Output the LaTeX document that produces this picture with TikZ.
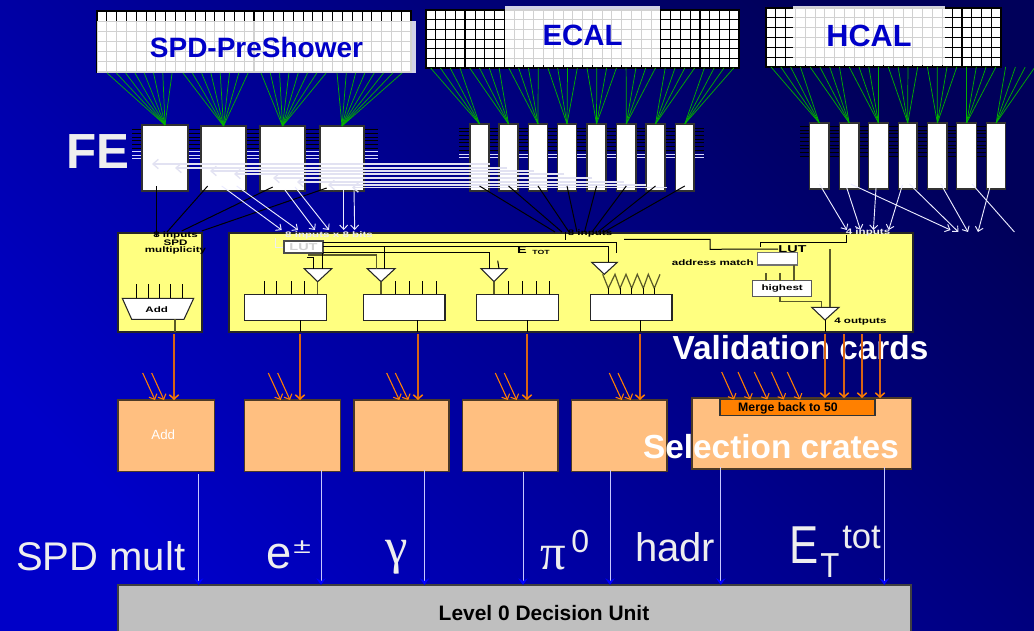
\documentclass[tikz,border=0pt]{standalone}
\usepackage{fontspec}
\setmainfont{Liberation Sans}
\newfontfamily\serifgr{Liberation Serif}
\usetikzlibrary{arrows.meta}
\definecolor{bgA}{RGB}{0,0,200}
\definecolor{bgB}{RGB}{0,0,90}
\definecolor{yel}{RGB}{255,255,128}
\definecolor{org}{RGB}{255,191,128}
\definecolor{orgd}{RGB}{255,128,0}
\definecolor{orgl}{RGB}{215,100,20}
\definecolor{lgt}{RGB}{238,238,238}
\definecolor{lav}{RGB}{226,226,242}
\definecolor{blu}{RGB}{0,0,200}
\definecolor{fang}{RGB}{0,175,0}
\definecolor{edge}{RGB}{50,50,50}
\definecolor{olive}{RGB}{90,90,40}
\definecolor{headb}{RGB}{0,0,255}
\newcommand\fsz[1]{\fontsize{#1}{#1}\selectfont}
\newcommand\wide[1]{\scalebox{1.45}[1]{#1}}
\newcommand\pxbox[7]{%
  \pgfmathsetmacro\bcx{(#2+#4)/2}\pgfmathsetmacro\bcy{(#3+#5)/2}%
  \pgfmathsetmacro\bxw{(#4-#2)*0.75}\pgfmathsetmacro\bxh{(#5-#3)*0.75}%
  \node[inner sep=0pt,outer sep=0pt,minimum width=\bxw pt,minimum height=\bxh pt,#6] (#1) at (\bcx,\bcy) {#7};}
\newcommand\gridlines[6]{%
  \foreach \k in {0,...,#5}{%
    \pgfmathsetmacro\gx{#1+\k*(#3-#1)/#5}%
    \pgfmathsetmacro\lw{mod(\k,4)==0?1.0:0.6}%
    \draw[line width=\lw pt] (\gx,#2) -- (\gx,#4);}%
  \foreach \k in {0,...,#6}{%
    \pgfmathsetmacro\gy{#2+\k*(#4-#2)/#6}%
    \draw[line width=0.7pt] (#1,\gy) -- (#3,\gy);}}
\tikzset{
  fan/.style={fang,line width=0.55pt},
  wire/.style={black,line width=0.75pt},
  owire/.style={olive,line width=0.9pt},
  febox/.style={draw=edge,fill=white,line width=0.9pt},
  grid box/.style={draw=black,fill=white,line width=1pt},
  overlay box/.style={fill=white,fill opacity=0.82,text opacity=1,text=blu,font=\bfseries},
  yelbox/.style={draw=black!85,fill=yel,line width=1.1pt},
  wbox/.style={draw=black!85,fill=white,line width=0.9pt},
  orbox/.style={draw=black!70!org,fill=org,line width=1.1pt},
  warrow/.style={white!92!blue,line width=0.7pt,-{Straight Barb[length=3.2pt,width=6pt]}},
  larrow/.style={lav,line width=1pt,-{Straight Barb[length=4pt,width=7pt]}},
  oarrow/.style={orgd,line width=0.8pt,-{Straight Barb[length=3.2pt,width=6.5pt]}},
  overt/.style={orgl,line width=1.1pt,-{Straight Barb[length=3.2pt,width=7pt,color=orgd]}},
  barrow/.style={white!78!blue,line width=0.7pt,-{Stealth[length=5pt,width=7pt,inset=2pt,color=headb]}},
  tinytxt/.style={inner sep=0pt,font=\bfseries\fsz{6}},
  biglab/.style={inner sep=0pt,text=lgt,anchor=base west},
  hugetxt/.style={inner sep=0pt,text=white,font=\bfseries\fsz{25}},
  cmp/.style={draw=black!85,fill=white,line width=0.8pt}
}
\begin{document}
\begin{tikzpicture}[x=0.75pt,y=-0.75pt]
\useasboundingbox (0,0) rectangle (1034,631);
\clip (0,0) rectangle (1034,631);
\shade[left color=bgA,right color=bgB,shading angle=135] (-1,-1) rectangle (1035,632);

% detectors
\pxbox{spdgrid}{97}{11}{411}{72}{grid box}{}
\gridlines{97}{11}{411}{72}{32}{6}
\pxbox{spd}{97}{21}{416}{73}{overlay box}{\raisebox{-1.5pt}{\fsz{21}SPD-PreShower}}
\pxbox{ecalgrid}{426}{10}{739}{68}{grid box}{}
\gridlines{426}{10}{739}{68}{32}{6}
\pxbox{ecal}{505}{6}{660}{65}{overlay box}{\raisebox{-1pt}{\fsz{22}ECAL}}
\pxbox{hcalgrid}{766}{8}{1001}{67}{grid box}{}
\gridlines{766}{8}{1001}{67}{24}{6}
\pxbox{hcal}{793}{6}{945}{65}{overlay box}{\raisebox{-1pt}{\fsz{23}HCAL}}

% side ticks
\foreach \y in {129,133,137,140,144,148}{\draw[black,line width=0.6pt] (132,\y) -- (378,\y);}
\foreach \y in {151,155,158}{\draw[white!85!blue,line width=0.6pt] (132,\y) -- (378,\y);}
\foreach \y in {128,131,135,139,142,146,150}{\draw[black,line width=0.6pt] (459,\y) -- (704,\y);}
\foreach \y in {154,157}{\draw[white!85!blue,line width=0.6pt] (459,\y) -- (704,\y);}
\foreach \y in {126,130,133,137,141,145,148,152,156}{\draw[black,line width=0.6pt] (800,\y) -- (986,\y);}

% front-end boards
\pxbox{s1}{142}{125}{188}{191}{febox}{}
\pxbox{s2}{201}{126}{246}{191}{febox}{}
\pxbox{s3}{260}{126}{305}{191}{febox}{}
\pxbox{s4}{320}{126}{364}{191}{febox}{}
\foreach \j/\a/\b in {1/470/489,2/499/518,3/528.5/547.5,4/557.5/576.5,5/587/606,6/616.5/636,7/646/665,8/675.5/694}{
  \pxbox{e\j}{\a}{124}{\b}{191}{febox}{}}
\foreach \j/\a/\b in {1/809.6/829,2/839.3/859,3/868.7/888.3,4/898.5/917,5/927.8/947,6/956.8/976.4,7/986.6/1005.7}{
  \pxbox{h\j}{\a}{123}{\b}{189}{febox}{}}

% green fans
\foreach \j/\d in {1/10,2/86,3/164,4/240}{
  \foreach \i in {0,...,7}{
    \pgfmathsetmacro\dx{\d+\i*9.3}
    \draw[fan] (spdgrid.south west) ++(\dx,1) -- (s\j.north);}}
\foreach \j in {1,...,8}{
  \foreach \i in {0,...,3}{
    \pgfmathsetmacro\dx{4.6+(\j-1)*39.1+\i*9.8}
    \draw[fan] (ecalgrid.south west) ++(\dx,0) -- (e\j.north);}}
\foreach \j in {1,...,7}{
  \foreach \i in {0,...,3}{
    \pgfmathsetmacro\dx{5+(\j-1)*39.1+\i*9.8}
    \draw[fan] (hcalgrid.south west) ++(\dx,0) -- (h\j.north);}}

% yellow cards
\pxbox{addcard}{118}{233}{202}{332}{yelbox}{}
\pxbox{main}{229}{233}{913}{332}{yelbox}{}

% long links ECAL -> SPD
\foreach \n/\ax/\bx/\y in {1/152/490/164,2/175/507/168,3/210/533.5/171,4/234/564/174,5/273/592/178,6/297/623.6/182,7/328/646/185,8/352/667/187.5}{
  \coordinate (la\n) at (\ax,\y);
  \coordinate (lb\n) at (\bx,\y);
  \draw[larrow] (lb\n) -- (la\n);}

% black links to cards
\coordinate (ad2) at (167,232); \coordinate (ad3) at (181.7,231); \coordinate (ad4) at (201.7,231);
\draw[wire] (s1.south) ++(-9,-5) -- ++(0,51);
\draw[wire] (s2.south) ++(-15.8,-5) -- (ad2);
\draw[wire] (s3.south) ++(-9.8,-4) -- (ad3);
\draw[wire] (s4.south) ++(-15.3,-3) -- (ad4);
\foreach \j/\x in {1/555,2/562,3/569,4/577,5/584.5,6/592,7/598,8/604}{
  \coordinate (ein\j) at (\x,232);
  \draw[wire] (e\j.south) ++(0,-5) -- (ein\j);}

% white links to main card
\foreach \n/\ax/\ay/\bx in {1/221.7/186/281.7,2/236.7/186/298,3/285/190/315,4/295/187/329,5/343.7/190/343.7,6/354/190/354.7}{
  \coordinate (wa\n) at (\ax,\ay); \coordinate (wb\n) at (\bx,230);
  \draw[warrow] (wa\n) -- (wb\n);}
\foreach \n/\ax/\ay/\bx/\by in {1/819.4/184/846.8/230,2/846.8/188/860.5/230,3/876/188/873.4/230,4/902.4/185/888.7/230,5/850.7/184/950.5/230,6/909.4/184/958.4/232,7/940.8/184/968/232,8/989.7/188/978/232}{
  \coordinate (ha\n) at (\ax,\ay); \coordinate (hb\n) at (\bx,\by);
  \draw[warrow] (ha\n) -- (hb\n);}
\coordinate (ha9) at (972,184); \coordinate (hb9) at (1014.4,232);
\draw[white!92!blue,line width=0.7pt] (ha9) -- (hb9);

% left card content
\node[tinytxt] (t1) at (175.5,235) {\wide{8 inputs}};
\node[tinytxt] (t2) at (175.5,243) {\wide{SPD}};
\node[tinytxt] (t3) at (175.5,250.5) {\wide{multiplicity}};
\coordinate (tra) at (122.3,298.3); \coordinate (trb) at (193.7,298.3);
\coordinate (trc) at (184,319.3); \coordinate (trd) at (131.7,319.3);
\draw[cmp] (tra) -- (trb) -- (trc) -- (trd) -- cycle;
\node[tinytxt] (addtxt) at (156.7,310) {\wide{Add}};
\foreach \x in {136.7,148,159,170.7,182.3}{\draw[wire] (\x,284) -- (\x,298.3);}
\draw[owire] (175,319.3) -- (175,332);

% main card: LUT block
\draw[lgt,line width=0.6pt] (275,238) -- (275,247) -- (284,247);
\node[tinytxt,text=lgt] (t8b) at (329,235) {\wide{8 inputs x 8 bits}};
\pxbox{lut}{284}{241}{323}{253}{draw=black!70,fill=white,line width=0.9pt,text=black!18,font=\bfseries\fsz{7.5}}{\wide{LUT}}

% comparators
\foreach \n/\a/\b/\m/\t/\p in {1/304.3/331.7/317.7/268.7/281.7,2/367.3/395/381/268.7/281.7,3/481/507/494/268.7/281.7,4/591.7/617.3/604.3/262.3/274.3,5/811.7/839/825/307.3/320}{
  \coordinate (ca\n) at (\a,\t); \coordinate (cb\n) at (\b,\t); \coordinate (cp\n) at (\m,\p);
  \draw[cmp] (ca\n) -- (cb\n) -- (cp\n) -- cycle;}

% output boxes
\pxbox{b1}{244.7}{294.3}{326.7}{320.3}{wbox}{}
\pxbox{b2}{363.3}{294.3}{445}{320.3}{wbox}{}
\pxbox{b3}{476.3}{294.3}{558.7}{320.3}{wbox}{}
\pxbox{b4}{590.3}{294.3}{672}{320.3}{wbox}{}
\foreach \x in {264,276.7,291,304.7}{\draw[wire] (\x,281) -- (\x,294.3);}
\draw[owire] (cp1) -- (cp1 |- b1.north);
\foreach \x in {395,409,422.7,436}{\draw[wire] (\x,281) -- (\x,294.3);}
\draw[owire] (cp2) -- (cp2 |- b2.north);
\foreach \x in {508.7,522.3,536,549.7}{\draw[wire] (\x,281) -- (\x,294.3);}
\draw[owire] (cp3) -- (cp3 |- b3.north);
\draw[owire] (602.7,274.3) -- (608.3,288.3) -- (615,274.3) -- (620,288.3) -- (626,274.3) -- (631.7,288.3) -- (637.3,274.3) -- (643.3,288.3) -- (648.3,274.3) -- (654.3,288.3) -- (660,274.3);
\foreach \x in {608.3,620,631.7,643.3,654.3}{\draw[wire] (\x,288.3) -- (\x,294.3);}

% LUT wiring
\coordinate (lp2) at (384,246.7);
\draw[wire] (lut.east |- 0,242.3) -- (616,242.3) -- (616,253);
\draw[wire] (lut.east |- 0,246.7) -- (608,246.7) -- (608,262.3);
\draw[wire] (lp2) -- (384,268.7);
\draw[wire] (lut.east |- 0,252.7) -- (489.7,252.7) -- (489.7,268.7);
\draw[owire] (308,255) -- (376.7,255) -- (376.7,268.7);
\draw[wire] (322.7,253) -- (322.7,268.7);
\draw[wire] (307,257.5) -- (313,257.5) -- (313,268.7);
\draw[wire] (497.7,260.7) -- (499,268.7);
\draw[wire] (565,231.7) -- (565,240);
\node[tinytxt] (t8a) at (590,233.5) {\wide{8 inputs}};
\node[tinytxt,text=lgt] (t4a) at (868,232.5) {\wide{4 inputs}};
\node[tinytxt,font=\bfseries\fsz{7.5}] (etot) at (522,250) {\wide{E}};
\node[tinytxt,font=\bfseries\fsz{4.5}] (etot2) at (541,252) {\wide{TOT}};

% right part of main card
\node[tinytxt,font=\bfseries\fsz{7.5}] (lut2) at (792.5,249) {\wide{LUT}};
\draw[wire] (624,239.3) -- (710,239.3) -- (710,249.3) -- (lut2.west);
\draw[wire] (846,235) -- (846,242.7) -- (760,242.7) -- (760,247);
\pxbox{am}{757.7}{252.7}{797.3}{265}{draw=black!55,fill=white,line width=0.9pt}{}
\node[tinytxt,anchor=east] (amtxt) at (754,262.7) {\wide{address match}};
\pxbox{hi}{752.7}{280.7}{811.7}{296.7}{draw=black!65,fill=white,line width=0.9pt,tinytxt}{\wide{highest}}
\draw[owire] (766,273) -- (766,280.7);
\draw[owire] (780,273) -- (780,280.7);
\draw[owire] (794,265) -- (794,280.7);
\draw[owire] (780,296.7) -- (780,301.7) -- (821.7,301.7) -- (821.7,307.3);
\draw[owire] (830,249.3) -- (830,307.3);
\draw[wire] (cp5) -- (825,332);
\node[tinytxt,anchor=west] (out4) at (834,322) {\wide{4 outputs}};
\draw[wire] (300,320.3) -- (300,332);
\draw[wire] (417.7,320.3) -- (417.7,332);
\draw[wire] (527,320.3) -- (527,332);
\draw[wire] (640.3,320.3) -- (640.3,332);

% selection crates
\pxbox{o1}{118}{400}{214.3}{471.3}{orbox}{}
\pxbox{o2}{244.7}{400}{340.3}{471.3}{orbox}{}
\pxbox{o3}{354}{400}{449}{471.3}{orbox}{}
\pxbox{o4}{462.3}{400}{558}{471.3}{orbox}{}
\pxbox{o5}{571.7}{400}{667}{471.3}{orbox}{}
\pxbox{o6}{692}{398}{911.3}{469}{orbox}{}
\node[inner sep=0pt,text=white,font=\fsz{10}] (addo) at (163.3,434.3) {Add};
\node[hugetxt] (valid) at (800.5,348) {Validation cards};
\pxbox{merge}{720}{399.7}{875}{415.7}{draw=black!80,fill=orgd,line width=0.9pt}{}
\node[inner sep=0pt,font=\fsz{9.2}\bfseries] (mergetxt) at (788,408) {Merge back to 50};
\node[hugetxt] (sel) at (771,447) {Selection crates};

% orange arrows
\foreach \n/\x/\t in {1/174/o1,2/300/o2,3/418/o3,4/527/o4,5/640/o5,6/825/o6,7/844/o6,8/862/o6,9/880/o6}{
  \coordinate (va\n) at (\x,334);
  \draw[overt] (va\n) -- (va\n |- \t.north);}
\foreach \n/\a/\b/\t in {1/142.7/155/o1,2/151.7/164/o1,3/268.3/280.7/o2,4/277.7/290/o2,5/386.7/399.3/o3,6/395.3/408.3/o3,7/495.3/507.7/o4,8/504.3/516.7/o4,9/609.3/621.7/o5,10/618/630.7/o5}{
  \coordinate (sa\n) at (\a,373); \coordinate (sb\n) at (\b,400);
  \draw[oarrow] (sa\n) -- (sb\n);}
\foreach \n/\a/\b in {11/721.7/734,12/738/750.3,13/754.3/767.3,14/771.3/783.7,15/787.3/800}{
  \coordinate (sa\n) at (\a,372); \coordinate (sb\n) at (\b,399.5);
  \draw[oarrow] (sa\n) -- (sb\n);}

% decision unit
\pxbox{l0}{118}{585}{911}{640}{draw=black!75,fill=black!25,line width=1.1pt}{}
\node[inner sep=0pt,font=\bfseries\fsz{15.7}] (l0txt) at (544,613) {Level 0 Decision Unit};
\foreach \n/\x/\y in {1/198.6/474,2/321/470,3/424.5/470,4/523/472,5/610/470,6/720.8/467,7/884.3/467}{
  \coordinate (da\n) at (\x,\y);
  \draw[barrow] (da\n) -- (da\n |- l0.north);}

% labels
\node[inner sep=0pt,text=lgt,font=\bfseries\fsz{37}] (fe) at (98,151.5) {FE};
\node[biglab,font=\fsz{30}] (lspd) at (16,570) {SPD mult};
\node[biglab,font=\fsz{34}] (le) at (266,568) {e};
\node[biglab,font=\fsz{16}] (lpm) at (293,553) {\scalebox{1.5}[1]{±}};
\node[biglab,font=\serifgr\fsz{38}] (lg) at (385,563) {γ};
\node[biglab,font=\serifgr\fsz{38}] (lpi) at (540,569) {π};
\node[biglab,font=\fsz{24}] (l00) at (571,552) {0};
\node[biglab,font=\fsz{30}] (lh) at (635,561.7) {hadr};
\node[biglab,font=\fsz{40}] (lE) at (789.5,563) {\scalebox{0.82}[1]{E}};
\node[biglab,font=\fsz{26}] (lT) at (820,577) {\scalebox{0.9}[1]{T}};
\node[biglab,font=\fsz{26}] (lt) at (842,548) {tot};
\end{tikzpicture}
\end{document}
